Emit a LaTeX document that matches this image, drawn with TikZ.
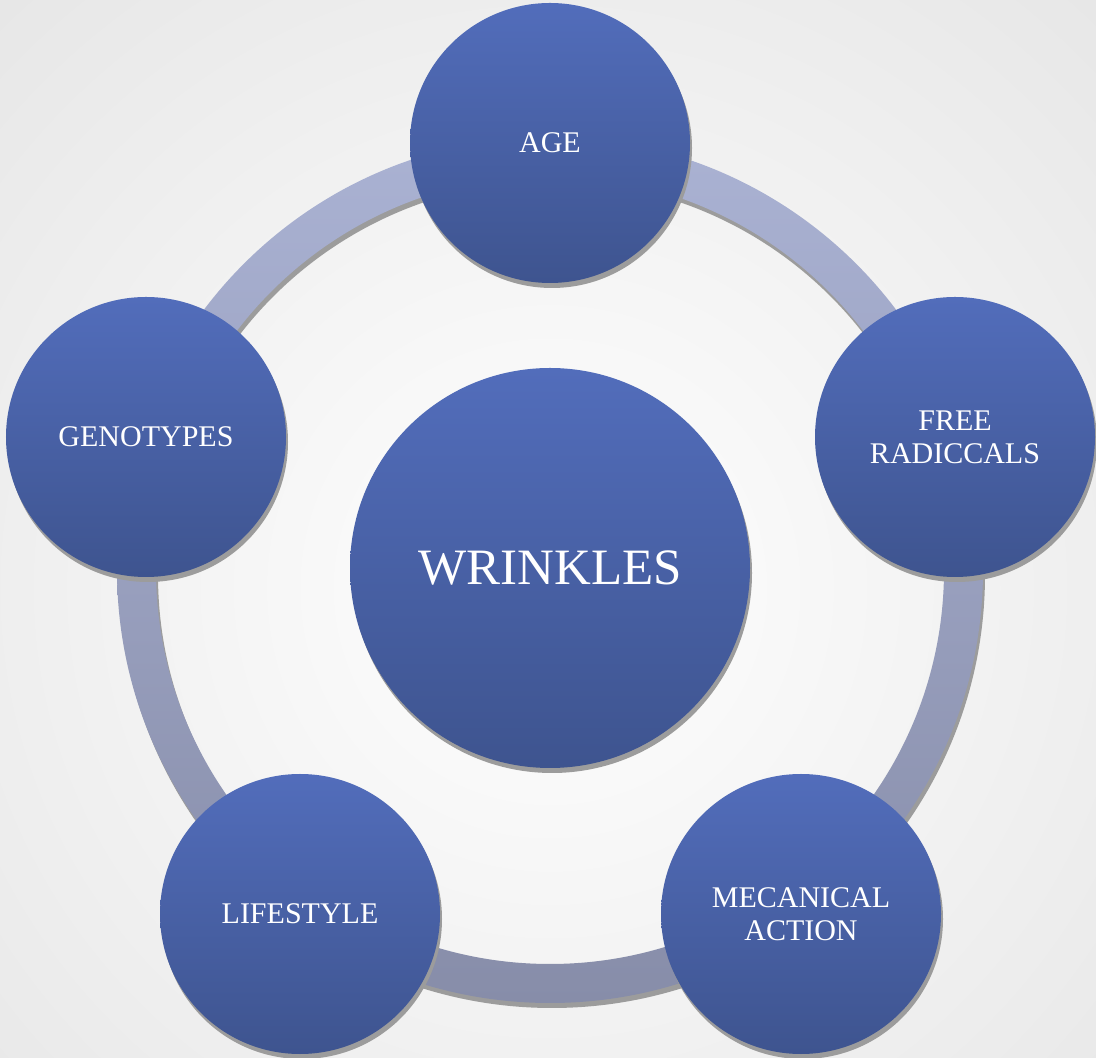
\documentclass[tikz,border=0pt]{standalone}
\usepackage{fontspec}
\setmainfont{Liberation Serif}
\usetikzlibrary{shadows}
\definecolor{bgout}{HTML}{E7E7E7}
\definecolor{ringtop}{HTML}{AAB2D3}
\definecolor{ringbot}{HTML}{878DA9}
\definecolor{ctop}{HTML}{526DBB}
\definecolor{cbot}{HTML}{3E548F}
\definecolor{shad}{HTML}{9C9C9C}
\begin{document}
\begin{tikzpicture}[x=1bp,y=1bp,
  bubble/.style={circle, inner sep=0pt, minimum size=280bp,
    top color=ctop, bottom color=cbot, draw=none, text=white,
    font=\fontsize{30bp}{33bp}\selectfont, align=center,
    drop shadow={shadow xshift=2bp, shadow yshift=-5bp, fill=shad, opacity=1}},
  bigbubble/.style={bubble, minimum size=400bp, font=\fontsize{51bp}{56bp}\selectfont}
]
\useasboundingbox (0,0) rectangle (1096,1058);
\begin{scope}
\clip (0,0) rectangle (1096,1058);
\shade[inner color=white, outer color=bgout] (-250,-330) rectangle (1350,1270);
\end{scope}
% ring
\coordinate (rc) at (550,488);
\coordinate (rs) at (552,483);
\fill[shad, even odd rule] (rs) circle (433) (rs) circle (394);
\shade[top color=ringtop, bottom color=ringbot, even odd rule] (rc) circle (433) (rc) circle (394);
% nodes
\node[bigbubble] (wr) at (550,490) {WRINKLES};
\node[bubble] (age) at (550,915) {AGE};
\node[bubble] (free) at (955,621) {FREE\\RADICCALS};
\node[bubble] (gen) at (146,621) {GENOTYPES};
\node[bubble] (mec) at (801,144) {MECANICAL\\ACTION};
\node[bubble] (life) at (300,144) {LIFESTYLE};
\end{tikzpicture}
\end{document}
